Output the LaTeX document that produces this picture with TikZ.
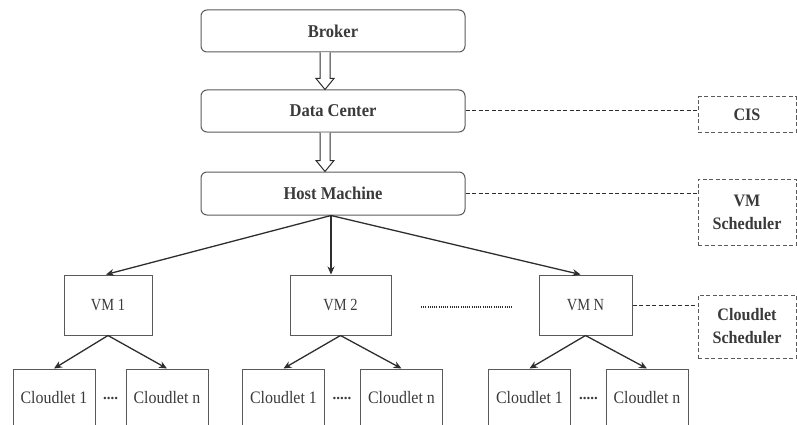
\documentclass[tikz,border=0pt]{standalone}
\usepackage{fontspec}
\setmainfont{Liberation Serif}
\newfontfamily\narrowbold[FakeStretch=0.92]{Liberation Serif}
\newfontfamily\narrowvm[FakeStretch=0.85]{Liberation Serif}
\newfontfamily\narrowcl[FakeStretch=0.91]{Liberation Serif}
\usetikzlibrary{arrows.meta,calc}

\definecolor{boxline}{HTML}{5A5A5A}
\definecolor{ink}{HTML}{2E2E2E}
\definecolor{label}{HTML}{3A3A3A}

\tikzset{
  every node/.style={text=label, inner sep=0pt},
  topbox/.style={draw=boxline, line width=1pt, rounded corners=6pt,
    minimum width=264pt, font=\narrowbold\bfseries\fontsize{18}{20}\selectfont},
  sidebox/.style={draw=boxline, line width=1pt, dashed, dash pattern=on 4pt off 2.5pt,
    minimum width=98pt, align=center, font=\narrowbold\bfseries\fontsize{17.5}{23}\selectfont},
  vmbox/.style={draw=boxline, line width=1pt, minimum height=60pt,
    font=\narrowvm\fontsize{17}{18}\selectfont},
  cloudbox/.style={draw=boxline, line width=1pt, minimum width=82pt, minimum height=58pt,
    font=\narrowcl\fontsize{17.5}{18}\selectfont},
  link/.style={draw=ink, line width=1.3pt, -{Stealth[length=8pt,width=7pt]}},
  tie/.style={draw=ink, line width=1pt, dash pattern=on 4pt off 2.5pt},
  hollow/.style={draw=ink, line width=1pt, fill=white, line join=miter},
  dots/.style={font=\bfseries\fontsize{15}{18}\selectfont}
}

\begin{document}
\begin{tikzpicture}[x=1pt, y=-1pt]
\useasboundingbox (0,0) rectangle (797,425);
\clip (0,0) rectangle (797,425);

% upper chain
\node[topbox, minimum height=42pt] (broker) at (333,31)    {Broker};
\node[topbox, minimum height=42pt] (dc)     at (333,111)   {Data Center};
\node[topbox, minimum height=43pt] (host)   at (333,193.5) {Host Machine};

% hollow block arrows between the upper boxes
\foreach \a/\b in {broker/dc, dc/host}{
  \coordinate (top) at ($(\a.south)+(-8,0)$);
  \coordinate (tip) at ($(\b.north)+(-8,0)$);
  \draw[hollow] ($(top)+(-5,0)$) -- ($(tip)+(-5,-11)$) -- ($(tip)+(-9,-11)$)
    -- (tip) -- ($(tip)+(9,-11)$) -- ($(tip)+(5,-11)$) -- ($(top)+(5,0)$);
}

% scheduler boxes on the right
\node[sidebox, minimum height=35pt] (cis) at (747,114.5) {CIS};
\node[sidebox, minimum height=66pt] (vms) at (747,212)   {VM\\Scheduler};
\node[sidebox, minimum height=63pt] (cls) at (747,326.5) {Cloudlet\\Scheduler};

% virtual machines
\node[vmbox, minimum width=88pt]  (vm1) at (108,305)   {VM 1};
\node[vmbox, minimum width=101pt] (vm2) at (340.5,305) {VM 2};
\node[vmbox, minimum width=93pt]  (vmn) at (585.5,305) {VM N};

\coordinate (gapa) at (421,307);
\coordinate (gapb) at (512,307);
\draw[ink, line width=1.4pt, dash pattern=on 1pt off 1.2pt] (gapa) -- (gapb);

% cloudlets
\node[cloudbox] (c11) at (54,398)    {Cloudlet 1};
\node[cloudbox] (c1n) at (167,398)   {Cloudlet n};
\node[cloudbox] (c21) at (283.5,398) {Cloudlet 1};
\node[cloudbox] (c2n) at (401.5,398) {Cloudlet n};
\node[cloudbox] (c31) at (529.5,398) {Cloudlet 1};
\node[cloudbox] (c3n) at (647,398)   {Cloudlet n};

\node[dots] (d1) at (110.5,398) {....};
\node[dots] (d2) at (342,398)   {.....};
\node[dots] (d3) at (588.5,398) {.....};

% dashed ties to the schedulers
\draw[tie] (dc.east)   -- (cis.west |- dc.east);
\draw[tie] (host.east) -- (vms.west |- host.east);
\draw[tie] (vmn.east)  -- (cls.west |- vmn.east);

% host to virtual machines
\draw[link] ([xshift=-2pt]host.south) -- ([xshift=-2pt]vm1.north);
\draw[link] ([xshift=-2pt]host.south) -- ([xshift=-2pt]host.south |- vm2.north);
\draw[link] ([xshift=-2pt]host.south) -- ([xshift=-5pt]vmn.north);

% virtual machines to cloudlets
\foreach \v/\p/\q in {vm1/c11/c1n, vm2/c21/c2n, vmn/c31/c3n}{
  \draw[link] (\v.south) -- (\p.north);
  \draw[link] (\v.south) -- (\q.north);
}
\end{tikzpicture}
\end{document}
